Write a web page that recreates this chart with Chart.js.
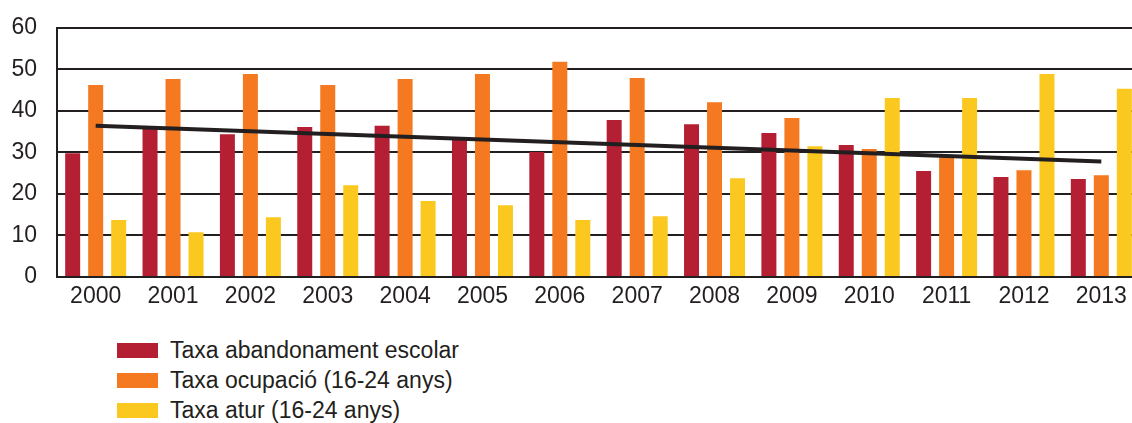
<!DOCTYPE html>
<html>
<head>
<meta charset="utf-8">
<script src="https://cdn.jsdelivr.net/npm/chart.js@4.4.0/dist/chart.umd.min.js"></script>
<style>
  body { margin: 0; background: #fff; overflow: hidden; width: 1132px; height: 423px; position: relative; }
  #wrap { position: absolute; left: 0; top: -6px; width: 1140px; height: 326px; }
  #legend { position: absolute; left: 117px; top: 335px; font: 23px "Liberation Sans", Arial, sans-serif; color: #231f20; }
  .item { height: 30px; display: flex; align-items: center; white-space: nowrap; }
  .box { width: 41px; height: 15px; margin-right: 12px; flex: none; }
</style>
</head>
<body>
<div id="wrap"><canvas id="chart"></canvas></div>
<div id="legend"></div>
<script>
const years = ["2000", "2001", "2002", "2003", "2004", "2005", "2006", "2007", "2008", "2009", "2010", "2011", "2012", "2013"];
const abandonament = [29.8, 35.8, 34.4, 36.1, 36.4, 33.0, 30.1, 37.8, 36.8, 34.7, 31.8, 25.5, 24.1, 23.6];
const ocupacio = [46.2, 47.7, 48.9, 46.2, 47.7, 48.9, 51.8, 47.9, 42.1, 38.3, 30.8, 29.4, 25.7, 24.5];
const atur = [13.7, 10.8, 14.4, 22.1, 18.3, 17.3, 13.7, 14.6, 23.8, 31.5, 43.1, 43.1, 48.9, 45.3];
// trend line: only the two end points
const tendencia = [36.4, null, null, null, null, null, null, null, null, null, null, null, null, 27.8];
const yTicks = [0, 10, 20, 30, 40, 50, 60];

const ink = "#231f20";
const font = { family: "'Liberation Sans', Arial, sans-serif", size: 23 };

function bar(label, data, color) {
  return {
    type: "bar",
    label: label,
    data: data,
    backgroundColor: color,
    categoryPercentage: 0.892,
    barPercentage: 0.652,
    order: 1,
  };
}

const chart = new Chart(document.getElementById("chart").getContext("2d"), {
  data: {
    labels: years,
    datasets: [
      bar("Taxa abandonament escolar", abandonament, "#b51f33"),
      bar("Taxa ocupació (16-24 anys)", ocupacio, "#f47920"),
      bar("Taxa atur (16-24 anys)", atur, "#fac81e"),
      {
        type: "line",
        label: "tendencia",
        data: tendencia,
        borderColor: ink,
        borderWidth: 4,
        pointRadius: 0,
        spanGaps: true,
        fill: false,
        order: 0,
      },
    ],
  },
  options: {
    responsive: true,
    maintainAspectRatio: false,
    animation: false,
    layout: { padding: 0 },
    plugins: { legend: { display: false }, tooltip: { enabled: false } },
    scales: {
      x: {
        grid: { display: false, drawTicks: false },
        border: { display: true, color: ink, width: 2 },
        ticks: { color: ink, font: font, padding: 6, maxRotation: 0 },
        afterFit: (axis) => { axis.height = 43; },
      },
      y: {
        min: 0,
        max: 60,
        afterBuildTicks: (axis) => { axis.ticks = yTicks.map((v) => ({ value: v })); },
        grid: { color: ink, lineWidth: 2, drawTicks: false },
        border: { display: true, color: ink, width: 2 },
        ticks: { color: ink, font: font, padding: 20 },
        afterFit: (axis) => { axis.width = 57; },
      },
    },
  },
});

const legend = document.getElementById("legend");
chart.data.datasets.filter((d) => d.type === "bar").forEach((d) => {
  const item = document.createElement("div");
  item.className = "item";
  const box = document.createElement("span");
  box.className = "box";
  box.style.background = d.backgroundColor;
  const text = document.createElement("span");
  text.textContent = d.label;
  item.appendChild(box);
  item.appendChild(text);
  legend.appendChild(item);
});
</script>
</body>
</html>
